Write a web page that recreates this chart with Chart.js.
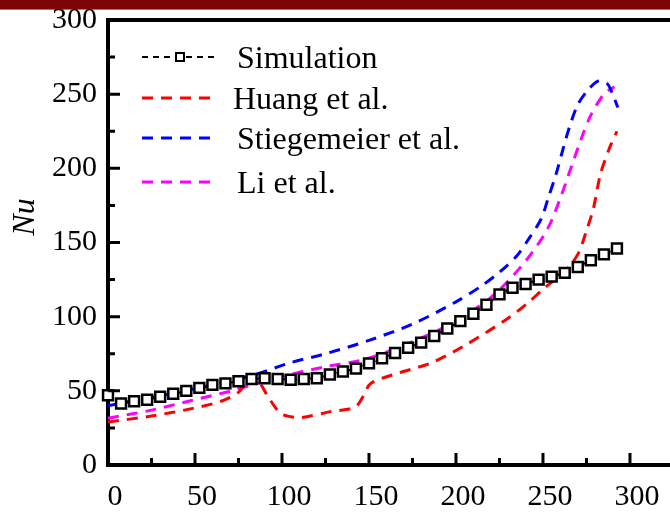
<!DOCTYPE html>
<html>
<head>
<meta charset="utf-8">
<script src="https://cdn.jsdelivr.net/npm/chart.js@4.4.0/dist/chart.umd.min.js"></script>
<style>
  body { margin: 0; background: #fff; }
  canvas { display: block; }
</style>
</head>
<body>
<canvas id="nuChart" width="670" height="514"></canvas>
<script>
// Simulation (squares every 7.5 units)
const simX = [0, 7.5, 15, 22.5, 30, 37.5, 45, 52.5, 60, 67.5, 75, 82.5, 90, 97.5, 105, 112.5, 120, 127.5, 135, 142.5,
              150, 157.5, 165, 172.5, 180, 187.5, 195, 202.5, 210, 217.5, 225, 232.5, 240, 247.5, 255, 262.5, 270, 277.5, 285, 292.5];
const simY = [47, 41.5, 43, 44, 46, 48, 50, 52, 54, 55, 56.5, 58, 58.5, 58, 57.5, 58, 58.5, 61, 63, 65,
              68.5, 72, 75.5, 79, 82.5, 87, 92, 97, 102, 108, 115, 119.5, 122, 125, 127, 129.5, 133.5, 138, 142, 146];

// Huang et al.
const huangX = [0, 25, 48, 65, 75, 80, 83, 88, 92, 99, 105, 111, 128, 142, 147, 151, 167, 186, 205, 230, 241, 251, 262, 270, 275, 279, 283, 288, 292.5];
const huangY = [29, 33, 38, 43, 49, 57, 61, 54, 46, 35, 32.5, 32, 36, 39, 47, 55, 62, 69, 80.5, 99, 109, 119.5, 130, 142, 158, 173, 196, 213, 225];

// Stiegemeier et al.
const stiegX = [0, 20, 40, 60, 82, 105, 125, 150, 175, 200, 215, 225, 235, 241, 249, 253, 257.5, 261.5, 265, 270, 276, 282, 287, 290, 293];
const stiegY = [40, 44.5, 49, 54, 60, 69, 75, 84, 95, 110, 121, 130, 141, 151, 166, 180, 196, 213, 227, 243, 253, 259, 257, 250, 241];

// Li et al.
const liX = [0, 25, 48, 71, 97.5, 124, 147, 166.5, 197, 218, 230, 243, 253, 260, 266, 272, 277.6, 285, 291];
const liY = [31.5, 37, 43.5, 50, 59, 66, 71, 79, 95, 111, 124, 142, 160, 180, 200, 220, 236, 250, 255];

const seriesNames = ['Simulation', 'Huang et al.', 'Stiegemeier et al.', 'Li et al.'];
const seriesColors = ['#000000', '#ff0000', '#0000ff', '#ff00ff'];

const xTickLabels = [0, 50, 100, 150, 200, 250, 300];
const yTickLabels = [0, 50, 100, 150, 200, 250, 300];
const minorStep = 25;

const serif = "'Liberation Serif', 'Times New Roman', serif";

function toPoints(xs, ys) {
    return xs.map((x, i) => ({ x: x, y: ys[i] }));
}

// Page decoration, inward ticks, top frame, y title and legend
const decorPlugin = {
    id: 'decor',
    beforeDraw(chart) {
        const ctx = chart.ctx;
        ctx.save();
        ctx.fillStyle = '#fff';
        ctx.fillRect(0, 0, chart.width, chart.height);
        ctx.fillStyle = '#7d0505';
        ctx.fillRect(0, 0, chart.width, 9);
        ctx.fillStyle = '#b07070';
        ctx.fillRect(0, 9, chart.width, 1);
        ctx.restore();
    },
    afterDraw(chart) {
        const ctx = chart.ctx;
        const a = chart.chartArea;
        const xs = chart.scales.x;
        const ys = chart.scales.y;
        ctx.save();
        ctx.strokeStyle = '#000';
        ctx.lineWidth = 3;
        ctx.beginPath();
        for (let v = minorStep; v <= xTickLabels[xTickLabels.length - 1]; v += minorStep) {
            const px = xs.getPixelForValue(v);
            const len = v % 50 === 0 ? 12 : 7;
            ctx.moveTo(px, a.bottom);
            ctx.lineTo(px, a.bottom - len);
        }
        for (let v = minorStep; v < yTickLabels[yTickLabels.length - 1]; v += minorStep) {
            const py = ys.getPixelForValue(v);
            const len = v % 50 === 0 ? 12 : 7;
            ctx.moveTo(a.left, py);
            ctx.lineTo(a.left + len, py);
        }
        ctx.stroke();

        // top frame
        ctx.lineWidth = 4;
        ctx.beginPath();
        ctx.moveTo(a.left - 2, a.top);
        ctx.lineTo(chart.width, a.top);
        ctx.stroke();

        // y title
        ctx.fillStyle = '#000';
        ctx.font = 'italic 32px ' + serif;
        ctx.textAlign = 'center';
        ctx.textBaseline = 'middle';
        ctx.translate(26, 217);
        ctx.rotate(-Math.PI / 2);
        ctx.fillText('Nu', 0, 0);
        ctx.restore();

        // legend
        ctx.save();
        const rows = [57, 98, 138, 182];
        ctx.font = '32px ' + serif;
        ctx.textAlign = 'left';
        ctx.textBaseline = 'middle';
        rows.forEach((ry, i) => {
            ctx.strokeStyle = seriesColors[i];
            ctx.lineWidth = i === 0 ? 2 : 3;
            ctx.setLineDash(i === 0 ? [6, 5] : [11, 8]);
            ctx.beginPath();
            ctx.moveTo(142, ry);
            ctx.lineTo(218, ry);
            ctx.stroke();
            ctx.setLineDash([]);
            if (i === 0) {
                ctx.fillStyle = '#fff';
                ctx.fillRect(176, ry - 4, 8, 8);
                ctx.lineWidth = 2;
                ctx.strokeRect(176, ry - 4, 8, 8);
            }
            ctx.fillStyle = '#000';
            ctx.fillText(seriesNames[i], i === 1 ? 233 : 237, ry + 3);
        });
        ctx.restore();
    }
};

const ctx = document.getElementById('nuChart').getContext('2d');
new Chart(ctx, {
    type: 'line',
    data: {
        datasets: [
            {
                label: seriesNames[0],
                data: toPoints(simX, simY),
                borderColor: seriesColors[0],
                borderWidth: 2,
                borderDash: [5, 4],
                pointStyle: 'rect',
                pointRadius: 7,
                pointBorderWidth: 2.5,
                pointBorderColor: '#000',
                pointBackgroundColor: '#fff',
                clip: false,
                order: 0
            },
            {
                label: seriesNames[1],
                data: toPoints(huangX, huangY),
                borderColor: seriesColors[1],
                borderWidth: 3,
                borderDash: [11, 8],
                pointRadius: 0,
                tension: 0.3,
                clip: false,
                order: 1
            },
            {
                label: seriesNames[2],
                data: toPoints(stiegX, stiegY),
                borderColor: seriesColors[2],
                borderWidth: 3,
                borderDash: [11, 8],
                pointRadius: 0,
                tension: 0.3,
                clip: false,
                order: 2
            },
            {
                label: seriesNames[3],
                data: toPoints(liX, liY),
                borderColor: seriesColors[3],
                borderWidth: 3,
                borderDash: [11, 8],
                pointRadius: 0,
                tension: 0.3,
                clip: false,
                order: 3
            }
        ]
    },
    options: {
        responsive: false,
        animation: false,
        layout: { autoPadding: false, padding: { top: 20, right: 0, left: 0, bottom: 0 } },
        plugins: {
            legend: { display: false },
            tooltip: { enabled: false }
        },
        scales: {
            x: {
                type: 'linear',
                min: 0,
                max: 323,
                grid: { display: false, drawTicks: false, tickLength: 0 },
                border: { display: true, color: '#000', width: 4 },
                afterBuildTicks(scale) {
                    scale.ticks = xTickLabels.map(v => ({ value: v }));
                },
                ticks: {
                    autoSkip: false,
                    maxRotation: 0,
                    padding: 14,
                    labelOffset: 7,
                    color: '#000',
                    font: { family: serif, size: 30 },
                    callback: v => String(v)
                },
                afterFit(scale) {
                    scale.height = 49;
                    scale.paddingLeft = 0;
                    scale.paddingRight = 0;
                }
            },
            y: {
                min: 0,
                max: 300,
                grid: { display: false, drawTicks: false, tickLength: 0 },
                border: { display: true, color: '#000', width: 4 },
                afterBuildTicks(scale) {
                    scale.ticks = yTickLabels.map(v => ({ value: v }));
                },
                ticks: {
                    padding: 11,
                    color: '#000',
                    font: { family: serif, size: 30 },
                    callback: v => String(v)
                },
                afterFit(scale) {
                    scale.width = 108;
                    scale.paddingTop = 0;
                    scale.paddingBottom = 0;
                }
            }
        }
    },
    plugins: [decorPlugin]
});
</script>
</body>
</html>
